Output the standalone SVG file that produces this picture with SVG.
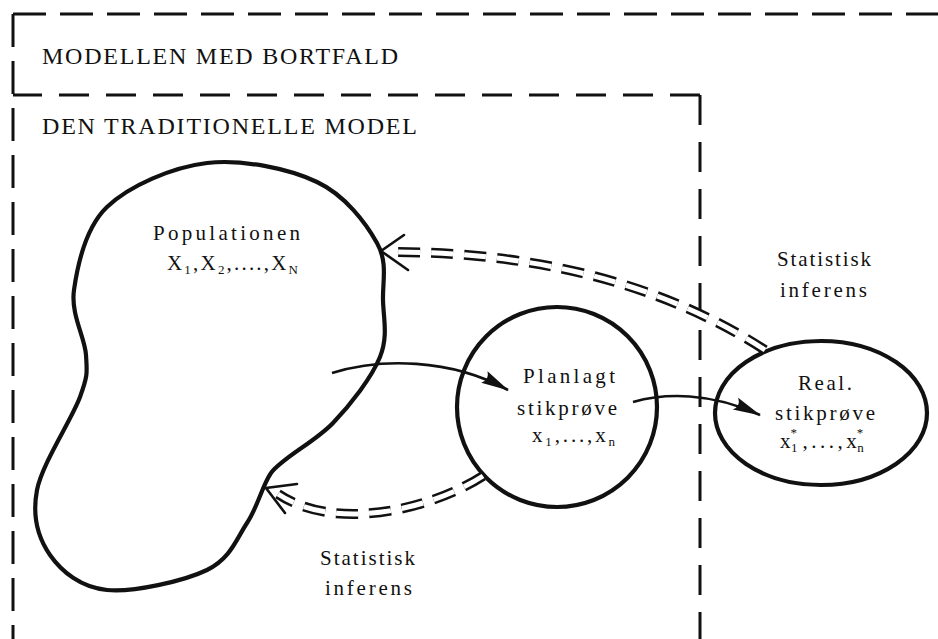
<svg xmlns="http://www.w3.org/2000/svg" width="938" height="639" viewBox="0 0 938 639">
<style>
text{font-family:"Liberation Serif","DejaVu Serif",serif;fill:#111;}
.title{font-size:24px;}
.lbl{font-size:21px;}
.sub{font-size:13px;}
.frame{fill:none;stroke:#111;stroke-width:3;stroke-dasharray:33 14;}
.inner{fill:none;stroke:#111;stroke-width:3;stroke-dasharray:30 17;}
.shape{fill:none;stroke:#111;stroke-width:4.2;}
.solid{fill:none;stroke:#111;stroke-width:2.6;}
.dbl{fill:none;stroke:#111;stroke-width:10;stroke-dasharray:22 11;}
.dblw{fill:none;stroke:#fff;stroke-width:5;stroke-dasharray:22 11;}
.head{fill:none;stroke:#111;stroke-width:2.6;stroke-linecap:round;}
</style>
<defs>
<marker id="ah" markerUnits="userSpaceOnUse" orient="auto" refX="0" refY="0" markerWidth="40" markerHeight="20" viewBox="-30 -10 32 20" overflow="visible">
<path d="M1,0 L-27,-6.5 Q-21,0 -27,6.5 Z" fill="#111"/>
</marker>
</defs>
<rect width="938" height="639" fill="#fff"/>

<g id="frame-outer">
<path class="frame" d="M13,14 H938"/>
<path class="frame" d="M13,14 V639"/>
<text class="title" x="42" y="64" textLength="356">MODELLEN MED BORTFALD</text>
</g>
<g id="frame-inner">
<path class="inner" d="M700,95 H13"/>
<path class="inner" d="M700,95 V639"/>
<text class="title" x="42" y="134" textLength="375">DEN TRADITIONELLE MODEL</text>
</g>

<g id="population">
<path class="shape" stroke-width="4.6" d="M207,163 C242,158.8 288.7,168.7 317,182 C345.3,195.3 366,223.3 377,243 C388,262.7 382.5,281 383,300 C383.5,319 388.3,336.5 380,357 C371.7,377.5 350.8,404.2 333,423 C315.2,441.8 282,458 271,473 C262,486 258,506.3 247,523 C236,539.7 230.3,558.8 207,570 C183.7,581.2 133.2,592.5 107,590 C80.8,587.5 61.7,571.7 50,555 C38.3,538.3 32,516.3 37,490 C42,463.7 71.8,419.5 80,397 C88.2,374.5 87,372.8 86,355 C85,337.2 70.5,314.7 74,290 C77.5,265.3 84.8,228.2 107,207 C129.2,185.8 172,167.2 207,163 Z"/>
<text class="lbl" x="153" y="240" textLength="147">Populationen</text>
<text class="lbl" x="167" y="270" textLength="131">X<tspan class="sub" dy="4">1</tspan><tspan dy="-4">,X</tspan><tspan class="sub" dy="4">2</tspan><tspan dy="-4">,....,X</tspan><tspan class="sub" dy="4">N</tspan></text>
</g>

<g id="planlagt">
<circle class="shape" cx="557" cy="407" r="100"/>
<text class="lbl" x="569" y="383" text-anchor="middle" textLength="92">Planlagt</text>
<text class="lbl" x="567" y="415" text-anchor="middle" textLength="100">stikprøve</text>
<text class="lbl" x="532" y="442" textLength="83">x<tspan class="sub" dy="4">1</tspan><tspan dy="-4">,...,x</tspan><tspan class="sub" dy="4">n</tspan></text>
</g>

<g id="real">
<ellipse class="shape" cx="821" cy="413" rx="106" ry="72"/>
<text class="lbl" x="825" y="390" text-anchor="middle" textLength="54">Real.</text>
<text class="lbl" x="825" y="420" text-anchor="middle" textLength="100">stikprøve</text>
<text class="lbl" x="780" y="448">x<tspan class="sub" dy="-11">*</tspan><tspan class="sub" dx="-6" dy="15">1</tspan><tspan dx="5" dy="-4" letter-spacing="3.5">,...,</tspan><tspan>x</tspan><tspan class="sub" dy="-11">*</tspan><tspan class="sub" dx="-6" dy="15">n</tspan></text>
</g>

<g id="label-inferens-upper">
<text class="lbl" x="777" y="266" textLength="94">Statistisk</text>
<text class="lbl" x="780" y="297" textLength="87">inferens</text>
</g>
<g id="label-inferens-lower">
<text class="lbl" x="320" y="565" textLength="95">Statistisk</text>
<text class="lbl" x="325" y="595" textLength="87">inferens</text>
</g>

<g id="connectors">
<path class="solid" d="M332,373 C380,358 450,358 508,390" marker-end="url(#ah)"/>
<path class="solid" d="M633,402 C665,393 710,392 760,415" marker-end="url(#ah)"/>
<path class="dbl" d="M765,350 C680,295 560,252 392,252"/>
<path class="dblw" d="M765,350 C680,295 560,252 392,252"/>
<path class="head" d="M404,235 L381,251 L408,270"/>
<path class="dbl" d="M483,476 C430,510 335,532 278,494"/>
<path class="dblw" d="M483,476 C430,510 335,532 278,494"/>
<path class="head" d="M297,484 L266,488 L285,513"/>
</g>
</svg>
